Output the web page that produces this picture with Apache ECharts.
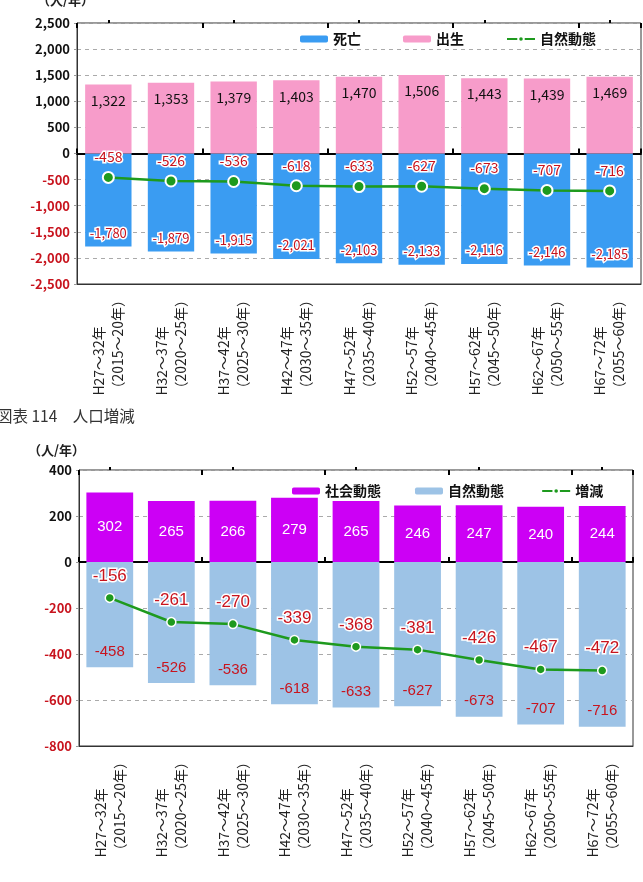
<!DOCTYPE html>
<html>
<head>
<meta charset="utf-8">
<style>
    html, body { margin: 0; padding: 0; background: #fff; }
    #chart { width: 643px; height: 882px; }
</style>
<script src="https://cdn.jsdelivr.net/npm/echarts@6/dist/echarts.min.js"></script>
</head>
<body>
<div id="chart"></div>
<script>
    // 期間（横軸）
    const periods = ['H27～32年\n（2015～20年）', 'H32～37年\n（2020～25年）', 'H37～42年\n（2025～30年）',
        'H42～47年\n（2030～35年）', 'H47～52年\n（2035～40年）', 'H52～57年\n（2040～45年）',
        'H57～62年\n（2045～50年）', 'H62～67年\n（2050～55年）', 'H67～72年\n（2055～60年）'];

    // 上：自然動態
    const deaths = [-1780, -1879, -1915, -2021, -2103, -2133, -2116, -2146, -2185];
    const births = [1322, 1353, 1379, 1403, 1470, 1506, 1443, 1439, 1469];
    const natural = [-458, -526, -536, -618, -633, -627, -673, -707, -716];

    // 下：人口増減
    const social = [302, 265, 266, 279, 265, 246, 247, 240, 244];
    const change = [-156, -261, -270, -339, -368, -381, -426, -467, -472];

    const JP = '"Noto Sans CJK JP", sans-serif';
    const NARROW = '"Liberation Sans Narrow", "Liberation Sans", sans-serif';
    const RED = '#c8141e';
    const fmt = v => v.toLocaleString('en-US');

    // x axes for one grid: labels at bottom, zero line with ticks
    function xAxes(gi) {
        return [{
            gridIndex: gi, type: 'category', data: periods, position: 'bottom',
            axisLine: { onZero: false, lineStyle: { color: '#333', width: 1 } },
            axisTick: { show: false },
            axisLabel: {
                rotate: 90, margin: 9, interval: 0,
                formatter: v => v.split('\n').map(s => '{a|' + s + '}').join('\n'),
                rich: { a: { align: 'left', fontSize: 14, lineHeight: 19, color: '#222', fontFamily: JP } }
            }
        }, {
            gridIndex: gi, type: 'category', data: periods,
            axisLine: { onZero: true, lineStyle: { color: '#000', width: 2 } },
            axisTick: { show: true, length: 5, lineStyle: { color: '#000', width: 2 } },
            axisLabel: { show: false }
        }, {
            gridIndex: gi, type: 'category', data: periods,
            axisLine: { show: false, onZero: true },
            axisTick: { show: true, inside: true, length: 5, lineStyle: { color: '#000', width: 2 } },
            axisLabel: { show: false }
        }, {
            gridIndex: gi, type: 'category', data: periods,
            axisLine: { show: false, onZero: true },
            axisTick: { show: true, alignWithLabel: true, length: 3, lineStyle: { color: '#000', width: 2 } },
            axisLabel: { show: false }
        }];
    }

    function yAxis(gi, min, max, step) {
        return {
            gridIndex: gi, type: 'value', min: min, max: max, interval: step,
            axisLine: { show: true, lineStyle: { color: '#333' } },
            axisTick: { show: true, length: 3, lineStyle: { color: '#999' } },
            splitLine: { lineStyle: { color: '#aaa', type: [4, 4] } },
            axisLabel: {
                fontSize: 13, fontWeight: 'bold', fontFamily: JP, margin: 7,
                formatter: v => fmt(v),
                color: v => (v < 0 ? RED : '#111')
            }
        };
    }

    const redLabel = {
        color: RED, fontFamily: JP, textBorderColor: '#fff', textBorderWidth: 3
    };

    const chart = echarts.init(document.getElementById('chart'));
    chart.setOption({
        animation: false,
        backgroundColor: '#fff',
        grid: [
            { left: 77, top: 23, right: 2, height: 261, show: true, borderColor: '#333', borderWidth: 1, backgroundColor: '#fff' },
            { left: 79, top: 470, right: 10, height: 276, show: true, borderColor: '#333', borderWidth: 1, backgroundColor: '#fff' }
        ],
        xAxis: xAxes(0).concat(xAxes(1)),
        yAxis: [yAxis(0, -2500, 2500, 500), yAxis(1, -800, 400, 200)],
        legend: [{
            left: 295, top: 27, itemGap: 42, itemWidth: 28, itemHeight: 7,
            textStyle: { fontSize: 14, fontWeight: 'bold', fontFamily: JP, color: '#111' },
            data: ['死亡', '出生', '自然動態']
        }, {
            left: 287, top: 479, itemGap: 34, itemWidth: 28, itemHeight: 7,
            textStyle: { fontSize: 14, fontWeight: 'bold', fontFamily: JP, color: '#111' },
            data: ['社会動態', '自然動態 ', '増減']
        }],
        graphic: [
            { type: 'text', left: 37, top: -6, style: { text: '（人/年）', fontSize: 13, fontWeight: 'bold', fontFamily: JP, fill: '#222' } },
            { type: 'text', left: 28, top: 444, style: { text: '（人/年）', fontSize: 13, fontWeight: 'bold', fontFamily: JP, fill: '#222' } },
            { type: 'text', left: -3, top: 408, style: { text: '図表 114　人口増減', fontSize: 15.5, fontFamily: JP, fill: '#333' } }
        ],
        series: [{
            name: '死亡', type: 'bar', xAxisIndex: 0, yAxisIndex: 0, stack: 'top',
            barWidth: '74%', itemStyle: { color: '#3a9cf2' }, data: deaths,
            label: Object.assign({ show: true, position: 'insideBottom', distance: 7, fontSize: 13, formatter: p => fmt(p.value) }, redLabel)
        }, {
            name: '出生', type: 'bar', xAxisIndex: 0, yAxisIndex: 0, stack: 'top',
            barWidth: '74%', itemStyle: { color: '#f79cca' }, data: births,
            label: { show: true, position: 'insideTop', distance: 9, fontSize: 14, color: '#111', fontFamily: JP, formatter: p => fmt(p.value) }
        }, {
            name: '自然動態', type: 'line', xAxisIndex: 0, yAxisIndex: 0, data: natural,
            lineStyle: { color: '#1e9a1e', width: 2.5 }, itemStyle: { color: '#1e9a1e', borderColor: '#fff', borderWidth: 2 },
            symbol: 'circle', symbolSize: 11, z: 5,
            label: Object.assign({ show: true, position: 'top', distance: 7, fontSize: 14 }, redLabel)
        }, {
            name: '社会動態', type: 'bar', xAxisIndex: 4, yAxisIndex: 1, stack: 'bottom',
            barWidth: '76%', itemStyle: { color: '#cc00f5' }, data: social,
            label: { show: true, position: 'inside', fontSize: 15, color: '#fff', fontFamily: NARROW }
        }, {
            name: '自然動態 ', type: 'bar', xAxisIndex: 4, yAxisIndex: 1, stack: 'bottom',
            barWidth: '76%', itemStyle: { color: '#9dc3e6' }, data: natural,
            label: { show: true, position: 'insideBottom', distance: 8, fontSize: 15, color: RED, fontFamily: NARROW }
        }, {
            name: '増減', type: 'line', xAxisIndex: 4, yAxisIndex: 1, data: change,
            lineStyle: { color: '#1e9a1e', width: 2.5 }, itemStyle: { color: '#1e9a1e', borderColor: '#fff', borderWidth: 1.5 },
            symbol: 'circle', symbolSize: 9, z: 5,
            label: { show: true, position: 'top', distance: 8, fontSize: 17, fontFamily: NARROW,
                color: RED, textBorderColor: '#fff', textBorderWidth: 3 }
        }]
    });
</script>
</body>
</html>
